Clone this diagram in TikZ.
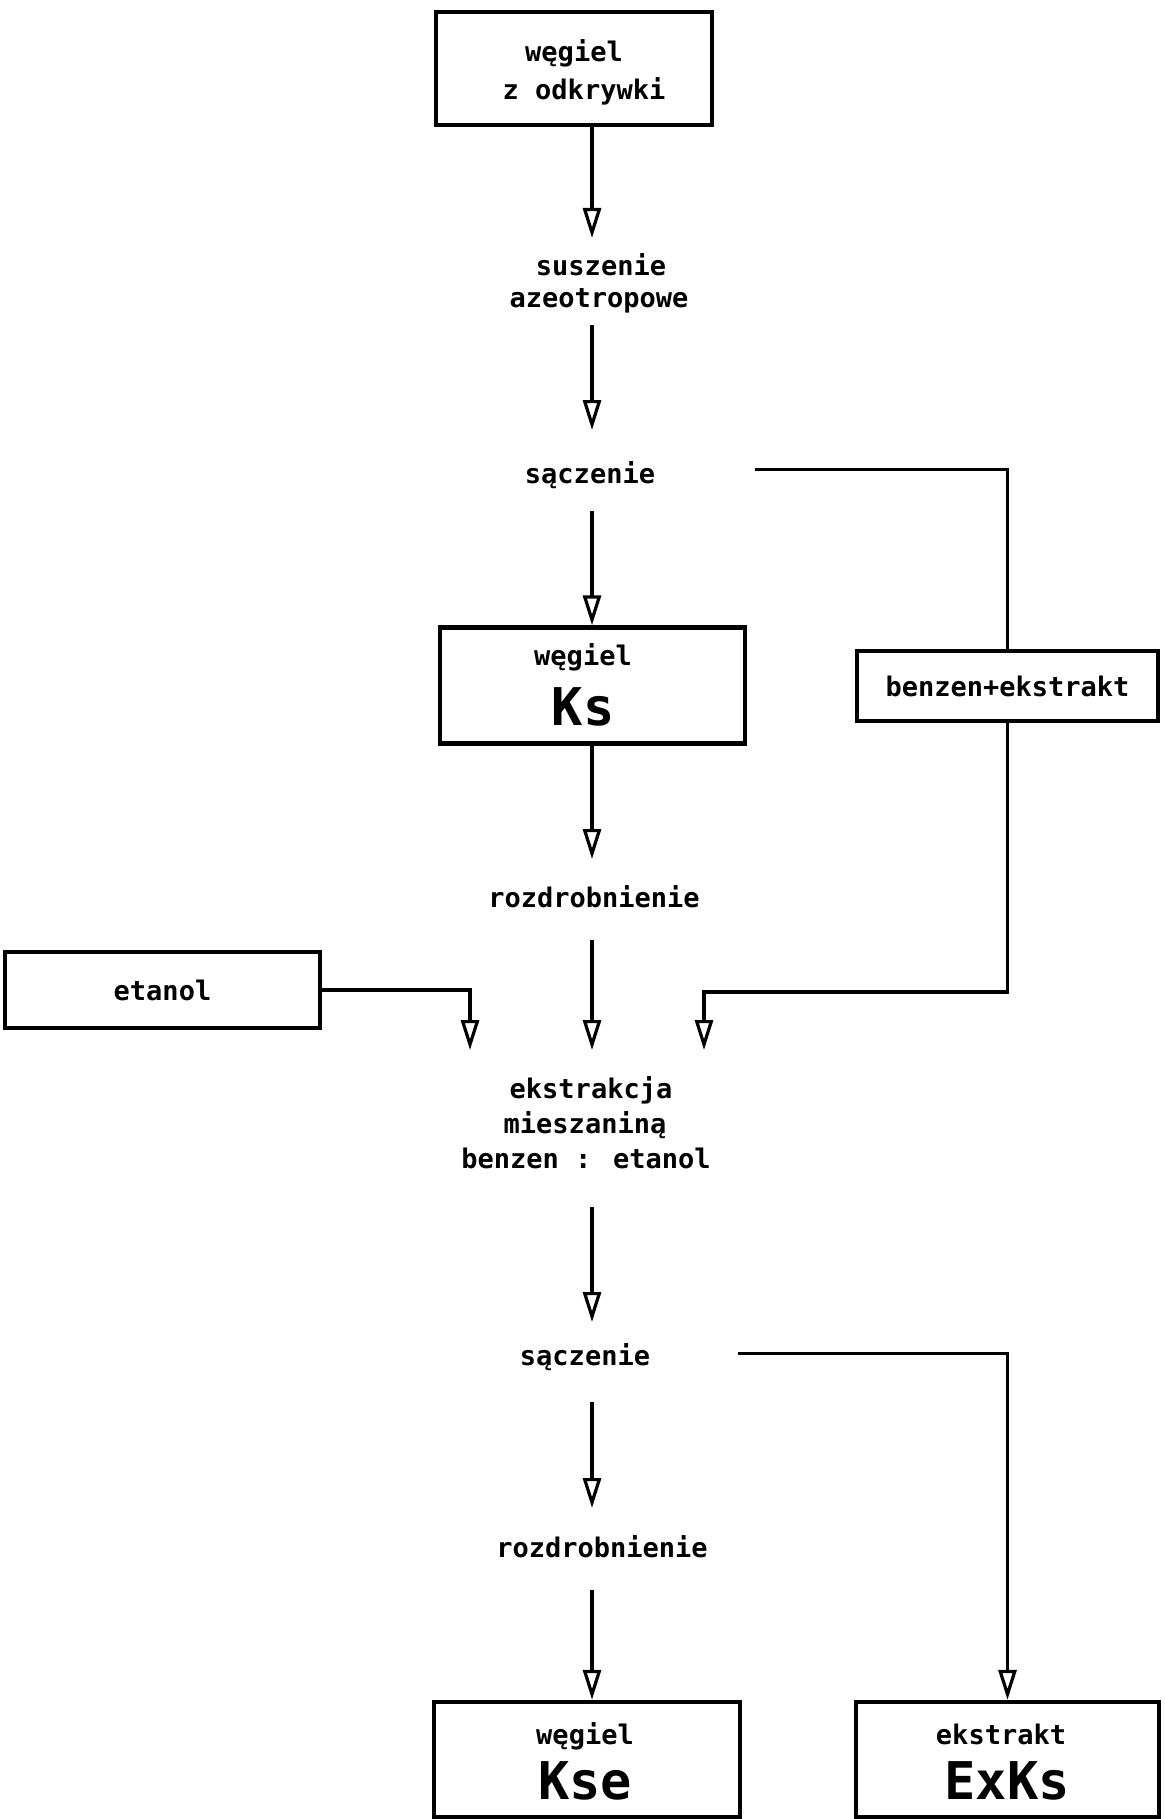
\documentclass[tikz,border=0pt]{standalone}
\usepackage{fontspec}
\setmainfont{DejaVu Sans Mono}
\usetikzlibrary{arrows.meta,calc}
\newcommand\txtA{\fontsize{13.5}{18}\selectfont\bfseries}
\newcommand\txtB{\fontsize{26}{30}\selectfont\bfseries}
\begin{document}
\begin{tikzpicture}[x=0.5pt,y=-0.5pt,
 box/.style={draw,line width=2.2pt,inner sep=0pt},
 lbl/.style={inner sep=0pt,anchor=base,font=\txtA},
 big/.style={inner sep=0pt,anchor=base,font=\txtB},
 conn/.style={line width=1.6pt},
 arr/.style={conn,-{Triangle[open,length=15pt,width=9pt]}}]
\useasboundingbox[fill=white] (0,0) rectangle (1164,1819);
% nodes
\node[box,minimum width=138pt,minimum height=56.5pt] (top) at (574,68.5) {};
\node[lbl] (t1) at (574,62) {węgiel};
\node[lbl] (t2) at (584,100) {z odkrywki};
\node[lbl] (susz) at (601,275) {suszenie};
\node[lbl] (azeo) at (599,307) {azeotropowe};
\node[lbl] (sacz1) at (590,483) {sączenie};
\node[box,minimum width=152.5pt,minimum height=58pt] (ks) at (592.5,685.5) {};
\node[lbl] (k1) at (583,665) {węgiel};
\node[big] (k2) at (583,725) {Ks};
\node[box,minimum width=150.5pt,minimum height=35pt,font=\txtA] (benz) at (1007.5,686) {benzen+ekstrakt};
\node[lbl] (rozd1) at (594,907) {rozdrobnienie};
\node[box,minimum width=157.5pt,minimum height=38pt,font=\txtA] (etan) at (162.5,990) {etanol};
\node[lbl] (e1) at (591,1098) {ekstrakcja};
\node[lbl] (e2) at (585,1133) {mieszaniną};
\node[lbl] (e3) at (586,1168) {benzen : etanol};
\node[lbl] (sacz2) at (585,1365) {sączenie};
\node[lbl] (rozd2) at (602,1557) {rozdrobnienie};
\node[box,minimum width=153pt,minimum height=57.5pt] (kse) at (587,1759.5) {};
\node[lbl] (s1) at (585,1744) {węgiel};
\node[big] (s2) at (585,1799) {Kse};
\node[box,minimum width=151.5pt,minimum height=57.5pt] (exks) at (1007.5,1759.5) {};
\node[lbl] (x1) at (1001,1744) {ekstrakt};
\node[big] (x2) at (1007,1799) {ExKs};
% coordinates
\coordinate (col) at (592,0);
\coordinate (tipL) at (470,1050);
\coordinate (tipR) at (704,1050);
\coordinate (jR) at (704,992);
% main column arrows
\draw[arr] (top.south -| col) -- ($(susz.base -| col)+(0,-37)$);
\draw[arr] ($(azeo.base -| col)+(0,18)$) -- ($(sacz1.base -| col)+(0,-53)$);
\draw[arr] ($(sacz1.base -| col)+(0,28)$) -- (ks.north -| col);
\draw[arr] (ks.south -| col) -- ($(rozd1.base -| col)+(0,-48)$);
\draw[arr] ($(rozd1.base -| col)+(0,33)$) -- ($(e1.base -| col)+(0,-48)$);
\draw[arr] ($(e3.base -| col)+(0,39)$) -- ($(sacz2.base -| col)+(0,-43)$);
\draw[arr] ($(sacz2.base -| col)+(0,37)$) -- ($(rozd2.base -| col)+(0,-49)$);
\draw[arr] ($(rozd2.base -| col)+(0,33)$) -- (kse.north -| col);
% side branches
\draw[conn] ($(sacz1.east)+(100,-5)$) -| (benz.north);
\draw[arr] (benz.south) |- (jR) -- (tipR);
\draw[arr] (etan.east) -| (tipL);
\draw[arr] ($(sacz2.east)+(88,-3)$) -| (exks.north);
\end{tikzpicture}
\end{document}
